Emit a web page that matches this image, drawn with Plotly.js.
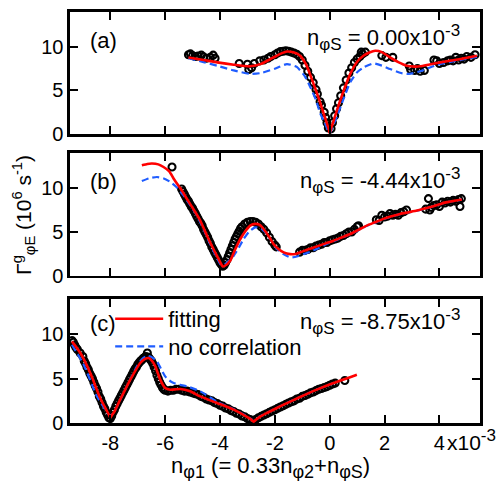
<!DOCTYPE html>
<html>
<head>
<meta charset="utf-8">
<script src="https://cdn.plot.ly/plotly-3.0.1.min.js"></script>
<style>html,body{margin:0;padding:0;background:#fff}#chart{width:502px;height:481px}</style>
</head>
<body>
<div id="chart"></div>
<script>
// ---------- Panel (a): n_phiS = 0.00e-3 ----------
const xa_data = [-5.15,-5.08,-5.0,-4.9,-4.8,-4.68,-4.6,-4.5,-4.35,-4.25,-4.18,-3.3,-3.0,-2.95,-2.85,-2.75,-2.55,-2.4,-2.25,-2.15,-2.0,-1.9,-1.8,-1.7,-1.6,-1.5,-1.4,-1.3,-1.2,-1.1,-1.0,-0.9,-0.8,-0.7,-0.6,-0.5,-0.45,-0.35,-0.3,-0.2,-0.15,-0.1,-0.05,0.05,0.1,0.18,0.25,0.32,0.4,0.5,0.6,0.7,0.8,0.9,1.0,1.1,1.15,1.2,1.3,1.9,2.05,2.3,2.9,2.95,3.1,3.2,3.3,3.45,3.8,3.9,4.0,4.15,4.3,4.4,4.5,4.6,4.7,4.8,4.9,5.0,5.15,5.3];
const ya_data = [9.1,9.2,9.0,8.9,8.95,9.05,8.85,8.7,8.8,9.05,8.7,8.1,8.0,7.4,7.6,8.1,8.4,8.5,8.7,8.9,9.1,9.3,9.45,9.5,9.55,9.5,9.4,9.3,9.15,8.9,8.5,7.9,7.2,6.5,5.9,5.1,4.6,3.7,3.3,2.5,1.9,1.3,0.7,0.6,1.3,2.1,2.9,3.6,4.4,5.3,6.2,7.0,7.6,8.2,8.6,8.9,9.4,9.2,9.4,9.0,8.8,8.8,7.8,7.4,7.3,7.5,7.2,7.3,8.5,8.4,8.1,8.2,8.4,8.5,8.4,8.8,8.5,8.7,8.6,8.9,8.8,9.1];
const xa_fit = [-5.15,-4.6,-4.1,-3.5,-2.9,-2.5,-2.1,-1.8,-1.56,-1.3,-1.08,-0.85,-0.59,-0.4,-0.22,-0.1,-0.03,0,0.03,0.1,0.26,0.5,0.75,1.0,1.23,1.45,1.66,1.9,2.2,2.5,2.81,3.1,3.3,3.6,4.03,4.4,4.76,5.05,5.37];
const ya_fit = [8.79,8.5,8.22,7.95,7.77,8.05,8.7,9.2,9.47,9.35,8.98,7.9,5.76,4.1,2.35,1.2,0.5,0.1,0.45,1.1,2.7,4.9,6.9,8.3,8.98,9.35,9.55,9.4,8.79,8.25,7.84,7.74,7.77,7.95,8.22,8.42,8.6,8.78,8.98];
const xa_nc = [-5.15,-4.6,-4.1,-3.5,-2.9,-2.5,-2.0,-1.56,-1.2,-0.9,-0.71,-0.5,-0.35,-0.2,-0.1,-0.03,0,0.03,0.1,0.26,0.5,0.75,1.0,1.23,1.6,1.9,2.2,2.6,2.9,3.3,3.7,4.03,4.4,4.76,5.05,5.37];
const ya_nc = [8.7,8.25,7.84,7.3,6.9,7.0,7.5,8.03,7.7,6.6,5.4,3.9,2.4,1.4,0.7,0.3,0.08,0.3,0.8,1.97,4.0,5.95,7.1,7.65,8.1,7.85,7.46,7.0,6.9,7.2,7.7,8.03,8.28,8.48,8.68,8.86];

// ---------- Panel (b): n_phiS = -4.44e-3 ----------
const xb_data = [-5.75,-5.4,-5.35,-5.3,-5.25,-5.2,-5.15,-5.1,-5.05,-5.0,-4.95,-4.9,-4.85,-4.8,-4.75,-4.7,-4.65,-4.6,-4.55,-4.5,-4.45,-4.4,-4.35,-4.3,-4.25,-4.2,-4.15,-4.1,-4.05,-4.0,-3.95,-3.9,-3.85,-3.8,-3.75,-3.7,-3.65,-3.6,-3.55,-3.5,-3.45,-3.4,-3.35,-3.3,-3.25,-3.2,-3.1,-3.0,-2.9,-2.8,-2.7,-2.6,-2.5,-2.4,-2.3,-2.2,-2.1,-2.0,-1.95,-1.1,-1.0,-0.9,-0.8,-0.7,-0.6,-0.5,-0.4,-0.3,-0.2,-0.1,0.0,0.1,0.2,0.3,0.4,0.5,0.6,0.7,0.8,0.9,1.0,1.05,1.7,1.8,1.9,2.0,2.1,2.2,2.3,2.4,2.5,2.6,2.7,2.8,3.5,3.6,3.65,3.7,3.8,3.9,4.0,4.1,4.2,4.3,4.4,4.5,4.6,4.7,4.75,4.8];
const yb_data = [12.4,9.9,9.6,9.3,9.0,8.7,8.5,8.2,7.9,7.7,7.4,7.1,6.8,6.5,6.2,6.0,5.7,5.3,5.0,4.7,4.4,4.0,3.7,3.3,3.0,2.7,2.4,2.1,1.8,1.5,1.3,1.1,1.2,1.5,1.8,2.2,2.6,3.0,3.4,3.8,4.2,4.5,4.8,5.1,5.4,5.6,5.9,6.1,6.2,6.2,6.1,5.9,5.6,5.3,4.9,4.4,3.9,3.5,3.3,2.7,2.9,2.9,3.0,3.2,3.2,3.4,3.5,3.6,3.8,3.8,4.0,4.1,4.2,4.3,4.5,4.6,4.8,5.0,5.0,5.3,5.6,5.7,6.4,6.3,6.9,6.7,6.8,7.1,6.9,7.0,6.9,7.2,7.3,7.5,7.6,8.8,7.5,7.8,8.0,8.1,7.9,8.4,8.3,8.5,8.4,8.6,8.5,8.7,7.9,8.8];
const xb_fit = [-6.85,-6.65,-6.48,-6.25,-6.06,-5.85,-5.69,-5.45,-5.21,-4.95,-4.72,-4.55,-4.36,-4.2,-4.05,-3.95,-3.9,-3.82,-3.63,-3.45,-3.26,-3.05,-2.9,-2.72,-2.55,-2.41,-2.2,-2.05,-1.85,-1.68,-1.44,-1.25,-1.08,-0.8,-0.47,-0.15,0.14,0.45,0.75,1.05,1.35,1.65,1.96,2.25,2.57,2.88,3.18,3.5,3.78,4.05,4.27,4.55,4.82];
const yb_fit = [12.6,12.75,12.8,12.7,12.4,11.9,11.07,10.0,8.78,7.5,6.3,5.1,3.82,2.8,1.91,1.3,1.07,1.15,1.72,3.0,4.2,5.2,5.73,5.92,5.8,5.34,4.4,3.63,3.0,2.67,2.48,2.5,2.67,3.0,3.36,3.7,4.0,4.4,4.77,5.25,5.73,6.1,6.49,6.78,7.06,7.25,7.44,7.7,7.94,8.2,8.4,8.55,8.7];
const xb_nc = [-6.85,-6.6,-6.3,-6.05,-5.81,-5.55,-5.33,-5.1,-4.84,-4.6,-4.36,-4.15,-3.99,-3.9,-3.81,-3.65,-3.5,-3.3,-3.14,-2.95,-2.72,-2.5,-2.29,-2.1,-1.92,-1.7,-1.44,-1.2,-0.95,-0.7,-0.47,-0.2,0.14,0.45,0.75,1.05,1.35,1.65,1.96,2.25,2.57,2.88,3.18,3.5,3.78,4.05,4.27,4.55,4.82];
const yb_nc = [10.8,11.1,11.26,11.1,10.69,10.0,9.16,8.1,6.87,5.3,3.63,2.3,1.34,1.2,1.34,1.8,2.29,3.3,4.2,5.0,5.53,5.4,4.77,3.9,3.05,2.5,2.1,2.2,2.48,2.75,3.05,3.5,3.95,4.35,4.75,5.2,5.7,6.05,6.45,6.75,7.03,7.22,7.42,7.68,7.92,8.18,8.38,8.53,8.68];

// ---------- Panel (c): n_phiS = -8.75e-3 ----------
const xc_data = [-9.4,-9.35,-9.3,-9.25,-9.2,-9.1,-9.0,-8.95,-8.9,-8.85,-8.8,-8.75,-8.7,-8.65,-8.6,-8.55,-8.5,-8.45,-8.4,-8.35,-8.3,-8.25,-8.2,-8.15,-8.1,-8.05,-8.0,-7.95,-7.9,-7.85,-7.8,-7.75,-7.7,-7.65,-7.6,-7.55,-7.5,-7.45,-7.4,-7.35,-7.3,-7.25,-7.2,-7.15,-7.1,-7.05,-7.0,-6.95,-6.9,-6.85,-6.8,-6.75,-6.7,-6.65,-6.6,-6.55,-6.5,-6.45,-6.4,-6.35,-6.3,-6.25,-6.2,-6.15,-6.1,-6.05,-6.0,-5.9,-5.8,-5.7,-5.6,-5.5,-5.4,-5.3,-5.2,-5.1,-5.0,-4.9,-4.8,-4.7,-4.6,-4.5,-4.4,-4.3,-4.2,-4.1,-4.0,-3.9,-3.8,-3.7,-3.6,-3.5,-3.4,-3.3,-3.2,-3.1,-3.0,-2.9,-2.8,-2.7,-2.6,-2.5,-2.4,-2.3,-2.2,-2.1,-2.0,-1.9,-1.8,-1.7,-1.6,-1.5,-1.4,-1.3,-1.2,-1.1,-1.0,-0.9,-0.8,-0.7,-0.6,-0.5,-0.4,-0.3,-0.2,-0.1,0.0,0.1,0.2,0.55];
const yc_data = [9.3,9.1,8.8,8.5,8.3,7.9,7.5,7.0,6.7,6.3,6.0,5.6,5.3,5.0,4.6,4.2,3.9,3.5,3.0,2.7,2.3,1.9,1.6,1.2,0.9,0.6,0.5,0.8,1.2,1.5,1.9,2.2,2.5,2.8,3.1,3.4,3.7,4.0,4.3,4.6,4.9,5.2,5.5,5.8,6.1,6.3,6.6,6.8,7.0,7.1,7.3,7.4,7.5,7.9,7.4,7.2,7.0,6.7,6.3,5.9,5.4,5.0,4.6,4.3,4.0,3.8,3.7,3.6,3.7,3.7,3.8,3.8,3.7,3.6,3.6,3.5,3.4,3.3,3.2,3.0,2.9,2.7,2.6,2.5,2.3,2.2,2.0,1.9,1.7,1.6,1.4,1.3,1.1,1.0,0.8,0.7,0.5,0.4,0.25,0.4,0.6,0.75,0.9,1.05,1.2,1.35,1.5,1.65,1.8,1.95,2.1,2.25,2.4,2.5,2.7,2.8,3.0,3.1,3.25,3.4,3.5,3.65,3.8,3.9,4.0,4.1,4.25,4.4,4.5,4.8];
const xc_fit = [-9.4,-9.09,-8.73,-8.37,-8.15,-8.04,-8.0,-7.95,-7.85,-7.64,-7.27,-6.91,-6.75,-6.6,-6.48,-6.36,-6.18,-6.0,-5.81,-5.6,-5.45,-5.09,-4.72,-4.11,-3.5,-3.02,-2.85,-2.78,-2.7,-2.55,-2.29,-1.68,-1.08,-0.47,0.14,0.99];
const yc_fit = [9.21,7.89,5.64,2.82,1.5,0.85,0.6,0.85,1.3,2.63,4.89,6.77,7.2,7.33,7.0,6.39,4.89,3.95,3.76,3.8,3.83,3.57,3.0,2.26,1.5,0.68,0.35,0.15,0.35,0.7,1.13,2.07,2.93,3.76,4.51,5.45];
const xc_nc = [-9.4,-8.97,-8.49,-8.2,-8.06,-7.95,-7.88,-7.7,-7.52,-7.03,-6.85,-6.66,-6.5,-6.3,-6.15,-6.0,-5.85,-5.69,-5.45,-5.21,-4.72,-4.11,-3.5,-3.02,-2.85,-2.78,-2.7,-2.55,-2.29,-1.68,-1.08,-0.47,0.14];
const yc_nc = [8.83,6.58,3.01,1.6,0.94,0.9,1.13,2.2,3.38,6.39,7.2,7.59,7.45,6.95,6.1,5.26,4.8,4.51,4.3,4.14,3.57,2.4,1.55,0.75,0.4,0.22,0.4,0.72,1.15,2.08,2.94,3.77,4.5];

const xTickVals = [-8,-6,-4,-2,0,2,4];
const xTickText = ['-8','-6','-4','-2','0','2','4'];
const yTickVals = [0,5,10];
const panelLabels = ['(a)','(b)','(c)'];
const nphiS = ['0.00','-4.44','-8.75'];

const FONT = 'Liberation Sans, Arial, Helvetica, sans-serif';
const RED = '#ff0000', BLUE = '#1f5cff';
const S = (t, px) => '<span style="font-size:' + px + 'px">' + t + '</span>';

function dataTrace(x, y, ax, ay){
  return {x, y, xaxis: ax, yaxis: ay, type: 'scatter', mode: 'markers', showlegend: false,
    marker: {symbol: 'circle-open', size: 7, color: '#000', line: {width: 2.1}}};
}
function fitTrace(x, y, ax, ay, show){
  return {x, y, xaxis: ax, yaxis: ay, type: 'scatter', mode: 'lines', name: 'fitting', legend: 'legend',
    showlegend: show, line: {color: RED, width: 2.6, shape: 'spline', smoothing: 0.5}};
}
function ncTrace(x, y, ax, ay, show){
  return {x, y, xaxis: ax, yaxis: ay, type: 'scatter', mode: 'lines', name: 'no correlation', legend: 'legend2',
    showlegend: show, line: {color: BLUE, width: 2.2, dash: '7px,4px', shape: 'spline', smoothing: 0.5}};
}

const traces = [
  dataTrace(xa_data, ya_data, 'x', 'y'),
  ncTrace(xa_nc, ya_nc, 'x', 'y', false),
  fitTrace(xa_fit, ya_fit, 'x', 'y', false),
  dataTrace(xb_data, yb_data, 'x2', 'y2'),
  ncTrace(xb_nc, yb_nc, 'x2', 'y2', false),
  fitTrace(xb_fit, yb_fit, 'x2', 'y2', false),
  dataTrace(xc_data, yc_data, 'x3', 'y3'),
  ncTrace(xc_nc, yc_nc, 'x3', 'y3', true),
  fitTrace(xc_fit, yc_fit, 'x3', 'y3', true)
];

function xAxis(showLabels){
  return {range: [-9.47, 5.48], tickvals: xTickVals, ticktext: xTickText, showticklabels: showLabels,
    ticks: 'inside', ticklen: 8, tickwidth: 2, tickcolor: '#000', showline: true, linewidth: 2.6, linecolor: '#000',
    mirror: 'ticks', showgrid: false, zeroline: false, automargin: false, tickfont: {size: 20, color: '#000', family: FONT}};
}
function yAxis(domain, anchor){
  return {domain, anchor, range: [0, 14], tickvals: yTickVals, ticks: 'inside', ticklen: 8, tickwidth: 2, tickcolor: '#000',
    showline: true, linewidth: 2.6, linecolor: '#000', mirror: 'ticks', showgrid: false, zeroline: false, automargin: false,
    tickfont: {size: 20, color: '#000', family: FONT}};
}

const annotations = [];
const yrefs = ['y', 'y2', 'y3'];
const xrefs = ['x', 'x2', 'x3'];
const labY = [0.77, 0.764, 0.80];
const nY = [0.79, 0.78, 0.82];
for (let i = 0; i < 3; i++){
  annotations.push({xref: xrefs[i] + ' domain', yref: yrefs[i] + ' domain', x: 0.043, y: labY[i], xanchor: 'left', yanchor: 'middle',
    text: panelLabels[i], showarrow: false, font: {size: 22, color: '#000', family: FONT}});
  annotations.push({xref: xrefs[i] + ' domain', yref: yrefs[i] + ' domain', x: 0.955, y: nY[i], xanchor: 'right', yanchor: 'middle',
    text: 'n<sub>' + S('φS', 17) + '</sub> = ' + nphiS[i] + 'x10<sup>' + S('-3', 17) + '</sup>', showarrow: false,
    font: {size: 22, color: '#000', family: FONT}});
}
annotations.push({xref: 'paper', yref: 'paper', x: 0.915, y: -0.041, xanchor: 'left', yanchor: 'middle',
  text: 'x10<sup>' + S('-3', 17) + '</sup>', showarrow: false, font: {size: 21, color: '#000', family: FONT}});
annotations.push({xref: 'paper', yref: 'paper', x: 0.49, y: -0.108, xanchor: 'center', yanchor: 'middle',
  text: 'n<sub>' + S('φ1', 18) + '</sub> (= 0.33n<sub>' + S('φ2', 18) + '</sub>+n<sub>' + S('φS', 18) + '</sub>)', showarrow: false,
  font: {size: 22, color: '#000', family: FONT}});
annotations.push({xref: 'paper', yref: 'paper', x: -0.115, y: 0.506, xanchor: 'center', yanchor: 'middle', textangle: -90,
  text: 'Γ<sup>g</sup><sub>φE</sub> (10<sup>6</sup> s<sup>-1</sup>)', showarrow: false, font: {size: 21, color: '#000', family: FONT}});

const legendBase = {xanchor: 'left', yanchor: 'middle', bgcolor: 'rgba(0,0,0,0)', borderwidth: 0,
  font: {size: 22, color: '#000', family: FONT}, itemwidth: 48};

const layout = {
  width: 502, height: 481,
  margin: {l: 70, r: 22, t: 12, b: 58},
  paper_bgcolor: '#fff', plot_bgcolor: '#fff',
  font: {family: FONT, size: 20, color: '#000'},
  xaxis: Object.assign(xAxis(false), {anchor: 'y'}),
  xaxis2: Object.assign(xAxis(false), {anchor: 'y2'}),
  xaxis3: Object.assign(xAxis(true), {anchor: 'y3'}),
  yaxis: yAxis([0.703, 1.0], 'x'),
  yaxis2: yAxis([0.358, 0.657], 'x2'),
  yaxis3: yAxis([0, 0.302], 'x3'),
  showlegend: true,
  legend: Object.assign({x: 0.098, y: 0.253}, legendBase),
  legend2: Object.assign({x: 0.098, y: 0.186}, legendBase),
  annotations
};

Plotly.newPlot('chart', traces, layout, {displayModeBar: false, staticPlot: true});
</script>
</body>
</html>
